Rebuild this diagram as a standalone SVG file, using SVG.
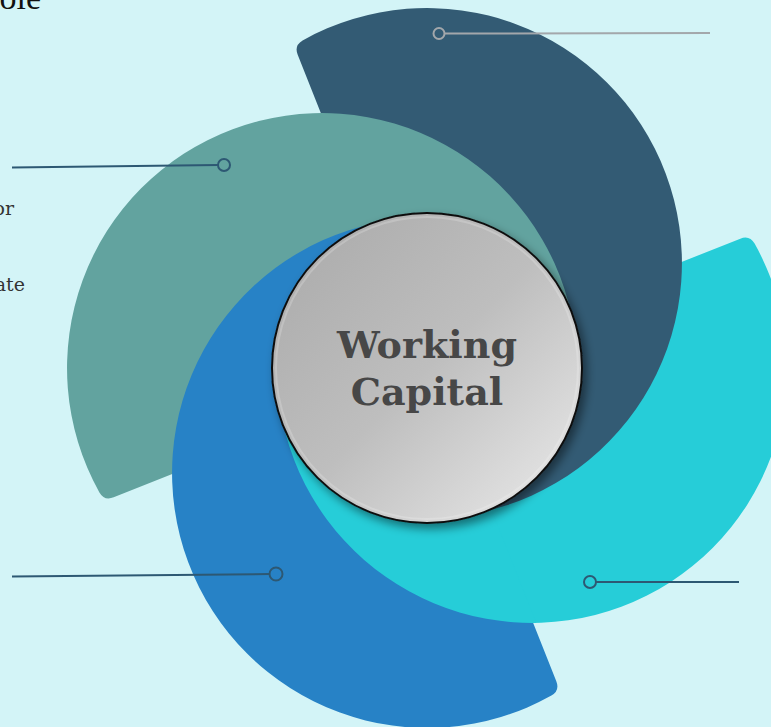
<svg xmlns="http://www.w3.org/2000/svg" width="771" height="727" viewBox="0 0 771 727">
  <style>
    .lead { fill: none; stroke-width: 2; }
    .dark { stroke: #2d5873; }
    .grey { stroke: #a3a7ab; }
    .side { font-family: "DejaVu Serif", "Liberation Serif", serif; font-size: 19px; fill: #333; }
    .title { font-family: "Liberation Serif", "DejaVu Serif", serif; font-size: 34px; fill: #111; }
    .center-text { font-family: "DejaVu Serif", "Liberation Serif", serif; font-weight: bold; font-size: 38px; fill: #474747; text-anchor: middle; }
  </style>
  <defs>
    <path id="arm" d="M 302.6 40.4 A 255 255 0 1 1 479.3 512.6 L 297.7 54.7 Q 294 45.4 302.6 40.4 Z"/>
    <clipPath id="blueSide">
      <polygon points="156.5,-335.7 783.8,1247.5 -500,1247.5 -500,-335.7"/>
    </clipPath>
    <linearGradient id="disc" x1="0" y1="0" x2="1" y2="1">
      <stop offset="0" stop-color="#a9a9a9"/>
      <stop offset="0.5" stop-color="#bebebe"/>
      <stop offset="1" stop-color="#ececec"/>
    </linearGradient>
    <filter id="shadow" x="-20%" y="-20%" width="150%" height="150%">
      <feDropShadow dx="4" dy="5" stdDeviation="5" flood-color="#000" flood-opacity="0.45"/>
    </filter>
  </defs>

  <rect width="771" height="727" fill="#d3f4f7"/>

  <text class="title" x="41" y="9" text-anchor="end">ole</text>
  <text class="side" x="14" y="215" text-anchor="end">or</text>
  <text class="side" x="25" y="291" text-anchor="end">ate</text>

  <g id="node-cyan-base">
    <use href="#arm" fill="#26cdd8" transform="rotate(90 427 368)"/>
  </g>
  <g id="node-darkblue">
    <use href="#arm" fill="#335b74"/>
  </g>
  <g id="node-teal">
    <use href="#arm" fill="#62a39f" transform="rotate(-90 427 368)"/>
  </g>
  <g id="node-blue">
    <use href="#arm" fill="#2782c6" transform="rotate(180 427 368)"/>
  </g>
  <g id="node-cyan" clip-path="url(#blueSide)">
    <use href="#arm" fill="#26cdd8" transform="rotate(90 427 368)"/>
  </g>

  <g id="connectors">
    <circle class="lead grey" cx="439" cy="33.5" r="5.5"/>
    <path class="lead grey" d="M 444.5 33.5 L 710 33"/>
    <circle class="lead dark" cx="224" cy="165" r="6"/>
    <path class="lead dark" d="M 218 165 L 12 167.5"/>
    <circle class="lead dark" cx="276" cy="574" r="6.5"/>
    <path class="lead dark" d="M 269.5 574 L 12 576.5"/>
    <circle class="lead dark" cx="590" cy="582" r="6"/>
    <path class="lead dark" d="M 596 582 L 739 582"/>
  </g>

  <g id="node-center">
    <circle cx="427" cy="368" r="155" fill="url(#disc)" stroke="#111" stroke-width="2" filter="url(#shadow)"/>
    <circle cx="427" cy="368" r="151" fill="none" stroke="#ffffff" stroke-opacity="0.2" stroke-width="2"/>
    <text class="center-text" x="427" y="358">Working</text>
    <text class="center-text" x="427" y="405">Capital</text>
  </g>
</svg>
